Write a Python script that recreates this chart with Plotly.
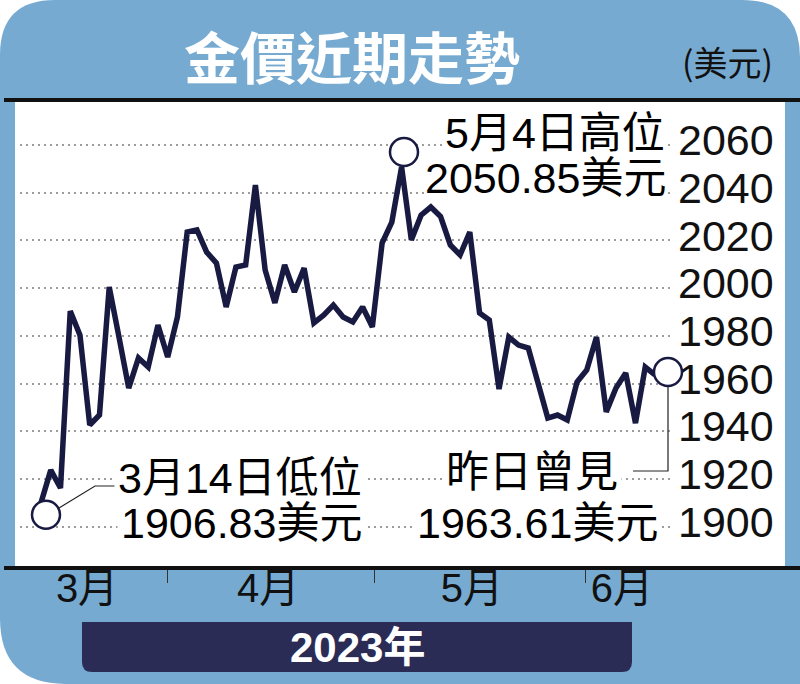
import plotly.graph_objects as go

# ---------------- data ----------------
dates = [
    "2023-03-14", "2023-03-15", "2023-03-16", "2023-03-17", "2023-03-20", "2023-03-21",
    "2023-03-22", "2023-03-23", "2023-03-24", "2023-03-27", "2023-03-28", "2023-03-29",
    "2023-03-30", "2023-03-31", "2023-04-03", "2023-04-04", "2023-04-05", "2023-04-06",
    "2023-04-07", "2023-04-10", "2023-04-11", "2023-04-12", "2023-04-13", "2023-04-14",
    "2023-04-17", "2023-04-18", "2023-04-19", "2023-04-20", "2023-04-21", "2023-04-24",
    "2023-04-25", "2023-04-26", "2023-04-27", "2023-04-28", "2023-05-01", "2023-05-02",
    "2023-05-03", "2023-05-04", "2023-05-05", "2023-05-08", "2023-05-09", "2023-05-10",
    "2023-05-11", "2023-05-12", "2023-05-15", "2023-05-16", "2023-05-17", "2023-05-18",
    "2023-05-19", "2023-05-22", "2023-05-23", "2023-05-24", "2023-05-25", "2023-05-26",
    "2023-05-29", "2023-05-30", "2023-05-31", "2023-06-01", "2023-06-02", "2023-06-05",
    "2023-06-06", "2023-06-07", "2023-06-08", "2023-06-09",
]
prices = [
    1910.0, 1923.7, 1916.2, 1990.4, 1980.3, 1942.6, 1946.8, 2000.5, 1979.5, 1958.1,
    1970.7, 1966.9, 1984.5, 1971.1, 1987.9, 2023.5, 2024.4, 2015.1, 2010.5, 1992.1,
    2008.8, 2009.7, 2043.2, 2007.6, 1993.8, 2009.7, 1998.4, 2008.4, 1985.4, 1988.7,
    1992.9, 1987.9, 1985.8, 1992.1, 1983.7, 2018.9, 2027.7, 2050.85, 2020.2, 2030.6,
    2034.0, 2030.0, 2018.1, 2013.9, 2023.5, 1989.6, 1986.6, 1957.7, 1979.5, 1976.1,
    1974.9, 1960.2, 1945.5, 1946.8, 1944.7, 1960.6, 1965.7, 1979.5, 1948.1, 1958.1,
    1964.4, 1943.4, 1966.9, 1963.61,
]
y_ticks = [1900, 1920, 1940, 1960, 1980, 2000, 2020, 2040, 2060]
month_labels = ["3月", "4月", "5月", "6月"]
title_text = "金價近期走勢"
unit_text = "(美元)"
year_text = "2023年"
low_label = ["3月14日低位", "1906.83美元"]
high_label = ["5月4日高位", "2050.85美元"]
last_label = ["昨日曾見", "1963.61美元"]

# ---------------- layout geometry ----------------
W, H = 800, 684
PL, PR, PT, PB = 20, 673, 105, 565          # plot area in pixels
X_RANGE = [-2.155, 64.85]
Y_RANGE = [1883.9, 2076.8]
month_label_pos = [4.72, 23.3, 44.22, 59.6]
month_bound_pos = [12.93, 34.17, 55.92]

BLUE = "#76aad1"
NAVY = "#181a42"
BOX = "#2b2c56"
FONT = "Liberation Sans, Arial, Noto Sans CJK TC, sans-serif"
TFONT = "Noto Sans CJK TC, sans-serif"


def px(x):
    return (x - PL) / (PR - PL)


def py(y):
    return (PB - y) / (PB - PT)


def P(x, y):
    return f"{px(x):.5f},{py(y):.5f}"


def data_px(xv, yv):
    """pixel position of a data point (for anchoring marks next to it)"""
    xp = PL + (xv - X_RANGE[0]) / (X_RANGE[1] - X_RANGE[0]) * (PR - PL)
    yp = PB - (yv - Y_RANGE[0]) / (Y_RANGE[1] - Y_RANGE[0]) * (PB - PT)
    return xp, yp


x_idx = list(range(len(prices)))

fig = go.Figure()
fig.add_trace(go.Scatter(
    x=x_idx, y=prices, mode="lines",
    line=dict(color=NAVY, width=5.5),
    customdata=dates,
    hovertemplate="%{customdata}<br>%{y:.2f}美元<extra></extra>",
    showlegend=False,
))

shapes = []
# blue rounded card background
r1, r2, r3 = 55, 58, 66
bg_path = (
    f"M {P(r1, 0)} L {P(W - r2, 0)} Q {P(W, 0)} {P(W, r2)} "
    f"L {P(W, H)} L {P(r3, H)} Q {P(0, H)} {P(0, H - r3)} "
    f"L {P(0, r1)} Q {P(0, 0)} {P(r1, 0)} Z"
)
shapes.append(dict(type="path", xref="paper", yref="paper", path=bg_path,
                   fillcolor=BLUE, line=dict(width=0), layer="below"))
# white chart panel
shapes.append(dict(type="rect", xref="paper", yref="paper",
                   x0=px(15), x1=px(785), y0=py(567), y1=py(101),
                   fillcolor="white", line=dict(width=0), layer="below"))
# black rules top & bottom
shapes.append(dict(type="line", xref="paper", yref="paper",
                   x0=px(4), x1=px(800), y0=py(100), y1=py(100),
                   line=dict(color="#111111", width=4), layer="above"))
shapes.append(dict(type="line", xref="paper", yref="paper",
                   x0=px(4), x1=px(800), y0=py(568), y1=py(568),
                   line=dict(color="#111111", width=4), layer="above"))
# year box
shapes.append(dict(type="path", xref="paper", yref="paper",
                   path=(f"M {P(82, 622)} L {P(632, 622)} L {P(632, 662)} "
                         f"Q {P(632, 672)} {P(622, 672)} L {P(92, 672)} "
                         f"Q {P(82, 672)} {P(82, 662)} Z"),
                   fillcolor=BOX, line=dict(width=0), layer="above"))
# leader lines
shapes.append(dict(type="path", xref="paper", yref="paper",
                   path=f"M {P(59, 508)} L {P(95, 486)} L {P(116, 486)}",
                   line=dict(color="#222222", width=1.2), layer="above"))
shapes.append(dict(type="path", xref="paper", yref="paper",
                   path=f"M {P(668, 386)} L {P(668, 471)} L {P(633, 471)}",
                   line=dict(color="#222222", width=1.2), layer="above"))
# open circles placed next to the low / high / last data points
R = 14
for idx, (dx, dy) in [(0, (5, 12)), (37, (2.4, -14.9)), (len(prices) - 1, (13, -3))]:
    cx, cy = data_px(x_idx[idx], prices[idx])
    cx, cy = cx + dx, cy + dy
    shapes.append(dict(type="circle", xref="paper", yref="paper",
                       x0=px(cx - R), x1=px(cx + R), y0=py(cy + R), y1=py(cy - R),
                       fillcolor="white", line=dict(color=NAVY, width=2.5),
                       layer="above"))

annotations = []


def add_text(text, x, y, size, color="black", family=FONT, xanchor="center",
             bg=None, pad=0):
    annotations.append(dict(text=text, x=px(x), y=py(y), xref="paper", yref="paper",
                            xanchor=xanchor, yanchor="middle", showarrow=False,
                            font=dict(size=size, color=color, family=family),
                            bgcolor=bg, borderpad=pad))


add_text(f"<b>{title_text}</b>", 352, 54, 56, color="white", family=TFONT)
add_text(unit_text, 727, 62, 34, color="#111111", family=TFONT)
add_text(f"<b>{year_text}</b>", 357, 647, 42, color="white",
         family="Liberation Sans, Noto Sans CJK TC")

AS = 43
add_text(high_label[0], 667, 133, AS, xanchor="right", bg="white", pad=1)
add_text(high_label[1], 667, 178, AS, xanchor="right", bg="white", pad=0)
add_text(low_label[0], 114, 478, AS, xanchor="left", bg="white", pad=3)
add_text(low_label[1], 117, 523, AS, xanchor="left", bg="white", pad=3)
add_text(last_label[0], 622, 472, AS, xanchor="right", bg="white", pad=3)
add_text(last_label[1], 662, 523, AS, xanchor="right", bg="white", pad=3)

fig.update_layout(
    width=W, height=H,
    margin=dict(l=PL, r=W - PR, t=PT, b=H - PB, pad=0),
    paper_bgcolor="white",
    plot_bgcolor="rgba(0,0,0,0)",
    shapes=shapes,
    annotations=annotations,
    showlegend=False,
    xaxis=dict(
        range=X_RANGE, showgrid=False, zeroline=False, showline=False,
        tickmode="array", tickvals=month_label_pos, ticktext=month_labels,
        ticks="", ticklabelstandoff=-4,
        tickfont=dict(size=40, color="#111111", family=FONT),
        minor=dict(tickmode="array", tickvals=month_bound_pos, ticks="outside",
                   ticklen=17, tickwidth=1.2, tickcolor="#333333", showgrid=False),
        fixedrange=True,
    ),
    yaxis=dict(
        range=Y_RANGE, side="right", showgrid=True,
        gridcolor="#9c9c9c", griddash="2px,4px", gridwidth=2,
        zeroline=False, showline=False, ticks="",
        tickmode="array", tickvals=y_ticks,
        ticklabelstandoff=4, ticklabelshift=-5,
        tickfont=dict(size=43, color="#111111", family=FONT),
        fixedrange=True,
    ),
)

fig.write_html("out.html", config={"displayModeBar": False},
               post_script="document.body.style.margin='0';document.body.style.overflow='hidden';")
